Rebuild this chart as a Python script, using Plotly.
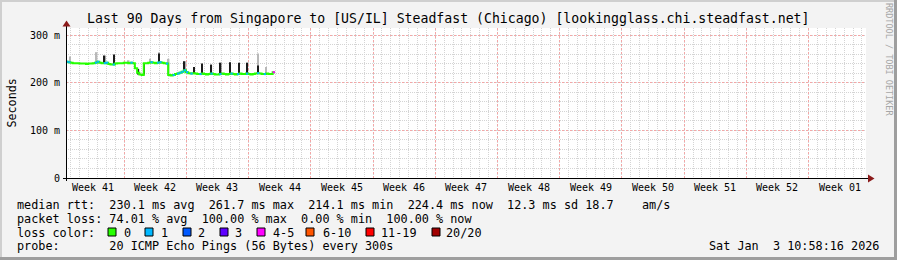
import plotly.graph_objects as go

# ---------------- data ----------------
STEP_DAYS = 0.25  # consolidation step of the median series (days)
median_ms = [244, 243, 242, 241, 241, 241, 240, 240, 240, 239, 240, 240, 241, 242, 244, 242,
             241, 241, 242, 239, 238, 238, 240, 241, 241, 241, 242, 242, 241, 242, 241, 230,
             221, 217, 216, 241, 241, 242, 243, 242, 241, 242, 243, 242, 241, 240, 216, 215,
             216, 218, 219, 221, 223, 226, 222, 220, 219, 220, 219, 218, 218, 219, 218, 217,
             218, 219, 218, 217, 217, 218, 219, 218, 217, 218, 219, 218, 217, 218, 219, 218,
             218, 219, 218, 217, 218, 219, 220, 219, 218, 218, 219, 218, 218, 222]
loss_count = [1, 1, 0, 0, 0, 0, 0, 0, 0, 0, 0, 0, 0, 1, 1, 0,
              0, 1, 1, 0, 0, 1, 0, 0, 0, 0, 0, 0, 0, 1, 0, 0,
              0, 0, 0, 0, 0, 0, 1, 0, 0, 1, 1, 0, 0, 1, 0, 0,
              1, 0, 1, 1, 1, 1, 1, 0, 1, 0, 0, 0, 1, 0, 0, 0,
              0, 1, 0, 0, 0, 1, 0, 0, 0, 0, 1, 0, 0, 1, 0, 0,
              0, 1, 0, 0, 0, 0, 1, 0, 0, 1, 0, 0, 0, 4]

# smoke (ping spread) spikes: day, low ms, high ms
smoke_light_day = [0.45, 3.45, 7.05, 9.45, 10.43, 11.55, 21.6, 22.47]
smoke_light_lo = [242, 243, 241, 243, 242, 216, 220, 218]
smoke_light_hi = [255, 264, 247, 250, 264, 250, 261, 233]
smoke_dark_day = [4.35, 5.37, 8.15, 8.75, 10.43, 13.35, 14.4, 15.33, 16.35, 17.4, 18.42, 19.43, 20.4, 21.6]
smoke_dark_lo = [241, 238, 217, 217, 242, 226, 220, 218, 218, 218, 218, 218, 218, 220]
smoke_dark_hi = [257, 259, 229, 241, 261, 245, 233, 240, 238, 242, 243, 242, 242, 236]

week_labels = ["Week 41", "Week 42", "Week 43", "Week 44", "Week 45", "Week 46", "Week 47",
               "Week 48", "Week 49", "Week 50", "Week 51", "Week 52", "Week 01"]
first_week_line_day = 6.54   # first week boundary, days after start
first_day_line = 0.54
y_ticks = [0, 100, 200, 300]
y_tick_text = ["0", "100 m", "200 m", "300 m"]

loss_labels = ["0", "1", "2", "3", "4-5", "6-10", "11-19", "20/20"]
loss_colors = ["#26ff00", "#00b8ff", "#0059ff", "#5e00ff", "#ff00ff", "#ff5500", "#ff0000", "#a10000"]
loss_upper = [0, 1, 2, 3, 5, 10, 19, 20]

title = "Last 90 Days from Singapore to [US/IL] Steadfast (Chicago) [lookingglass.chi.steadfast.net]"
legend_lines = [
    "median rtt:  230.1 ms avg  261.7 ms max  214.1 ms min  224.4 ms now  12.3 ms sd 18.7    am/s",
    "packet loss: 74.01 % avg  100.00 % max  0.00 % min  100.00 % now",
    "loss color:",
    "probe:       20 ICMP Echo Pings (56 Bytes) every 300s",
]
stamp = "Sat Jan  3 10:58:16 2026"

# ---------------- layout geometry ----------------
W, H = 897, 260
L, R, T, B = 66, 866, 28, 178
X_RANGE = [0, 90]
Y_RANGE = [0, 314.7]
FONT = "DejaVu Sans Mono"


def px(x):
    return (x - L) / (R - L)


def py(y):
    return (B - y) / (B - T)


def bucket(n):
    for i, u in enumerate(loss_upper):
        if n <= u:
            return i
    return len(loss_upper) - 1


t = [i * STEP_DAYS for i in range(len(median_ms))]
fig = go.Figure()

# smoke
fig.add_trace(go.Bar(x=smoke_light_day, base=smoke_light_lo,
                     y=[h - l for h, l in zip(smoke_light_hi, smoke_light_lo)],
                     width=0.16, marker=dict(color="#b8b8b8", line=dict(width=0)), showlegend=False))
fig.add_trace(go.Bar(x=smoke_dark_day, base=smoke_dark_lo,
                     y=[h - l for h, l in zip(smoke_dark_hi, smoke_dark_lo)],
                     width=0.16, marker=dict(color="#1c1c1c", line=dict(width=0)), showlegend=False))

# median line (green base) with loss-coloured segments
fig.add_trace(go.Scatter(x=t + [t[-1] + STEP_DAYS], y=median_ms + [median_ms[-1]], mode="lines",
                         line=dict(color=loss_colors[0], width=2, shape="hv"), showlegend=False))
for b in range(1, len(loss_colors)):
    xs, ys = [], []
    for ti, m, n in zip(t, median_ms, loss_count):
        if bucket(n) == b:
            xs += [ti, ti + STEP_DAYS, None]
            ys += [m, m, None]
    if xs:
        fig.add_trace(go.Scatter(x=xs, y=ys, mode="lines",
                                 line=dict(color=loss_colors[b], width=2), showlegend=False))

week_lines = [first_week_line_day + 7 * k for k in range(12)]
fig.update_layout(
    width=W, height=H, margin=dict(l=L, r=W - R, t=T, b=H - B),
    paper_bgcolor="#f3f3f3", plot_bgcolor="#ffffff", barmode="overlay",
    font=dict(family=FONT, size=10, color="#000000"),
    xaxis=dict(range=X_RANGE, tickmode="array", tickvals=week_lines, showticklabels=False,
               ticks="", showgrid=True, gridcolor="#f4a6a6", griddash="2px,2px", gridwidth=1,
               zeroline=False, showline=False, fixedrange=True,
               minor=dict(tickmode="linear", tick0=first_day_line, dtick=1, showgrid=True,
                          gridcolor="#d4d4d4", griddash="1px,1px", gridwidth=1, ticks="")),
    yaxis=dict(range=Y_RANGE, tickmode="array", tickvals=y_ticks, ticktext=y_tick_text,
               ticks="", ticklabelstandoff=5, showgrid=True, gridcolor="#f4a6a6",
               griddash="2px,2px", gridwidth=1, zeroline=False, showline=False,
               tickfont=dict(family=FONT, size=10),
               minor=dict(tickmode="linear", tick0=0, dtick=20, showgrid=True,
                          gridcolor="#d4d4d4", griddash="1px,1px", gridwidth=1, ticks="")),
)

shapes = []
# frame
shapes.append(dict(type="rect", xref="paper", yref="paper", x0=px(0), x1=px(W), y0=py(0), y1=py(2),
                   fillcolor="#cfcfcf", line=dict(width=0), layer="above"))
shapes.append(dict(type="rect", xref="paper", yref="paper", x0=px(0), x1=px(2), y0=py(0), y1=py(H),
                   fillcolor="#cfcfcf", line=dict(width=0), layer="above"))
shapes.append(dict(type="rect", xref="paper", yref="paper", x0=px(0), x1=px(W), y0=py(H - 3), y1=py(H),
                   fillcolor="#9e9e9e", line=dict(width=0), layer="above"))
shapes.append(dict(type="rect", xref="paper", yref="paper", x0=px(W - 3), x1=px(W), y0=py(0), y1=py(H),
                   fillcolor="#9e9e9e", line=dict(width=0), layer="above"))
# axes with arrows
shapes.append(dict(type="line", xref="paper", yref="paper", x0=px(63), x1=px(869), y0=py(B + 0.5), y1=py(B + 0.5),
                   line=dict(color="#000000", width=1), layer="above"))
shapes.append(dict(type="line", xref="paper", yref="paper", x0=px(L + 0.5), x1=px(L + 0.5), y0=py(B + 3), y1=py(25),
                   line=dict(color="#000000", width=1), layer="above"))
shapes.append(dict(type="path", xref="paper", yref="paper",
                   path=f"M {px(868)} {py(B - 3.5)} L {px(874.5)} {py(B + 0.5)} L {px(868)} {py(B + 4.5)} Z",
                   fillcolor="#8b1a1a", line=dict(width=0), layer="above"))
shapes.append(dict(type="path", xref="paper", yref="paper",
                   path=f"M {px(L - 3.5)} {py(26.5)} L {px(L + 0.5)} {py(20.5)} L {px(L + 4.5)} {py(26.5)} Z",
                   fillcolor="#8b1a1a", line=dict(width=0), layer="above"))

ann = []
ann.append(dict(text=title, xref="paper", yref="paper", x=px(448.5), y=py(18.5), xanchor="center",
                yanchor="middle", showarrow=False, font=dict(family=FONT, size=13.2)))
ann.append(dict(text="Seconds", xref="paper", yref="paper", x=px(11), y=py(102.5), xanchor="center",
                yanchor="middle", textangle=-90, showarrow=False, font=dict(family=FONT, size=11.7)))
for k, lab in enumerate(week_labels):
    ann.append(dict(text=lab, xref="x", yref="paper", x=first_week_line_day - 3.5 + 7 * k, y=py(187.5),
                    xanchor="center", yanchor="middle", showarrow=False, font=dict(family=FONT, size=10)))
for i, line in enumerate(legend_lines):
    ann.append(dict(text=line.replace(" ", "&nbsp;"), xref="paper", yref="paper", x=px(15), y=py(204.5 + 14 * i),
                    xanchor="left", yanchor="middle", showarrow=False, font=dict(family=FONT, size=11.8)))
ann.append(dict(text=stamp.replace(" ", "&nbsp;"), xref="paper", yref="paper", x=px(881), y=py(246.5),
                xanchor="right", yanchor="middle", showarrow=False, font=dict(family=FONT, size=11.8)))
ann.append(dict(text="RRDTOOL / TOBI OETIKER", xref="paper", yref="paper", x=px(889), y=py(59),
                xanchor="center", yanchor="middle", textangle=90, showarrow=False,
                font=dict(family=FONT, size=8.5, color="#a6a6a6")))

# loss colour legend
sw_x = [108, 145, 183, 220, 257, 306, 366, 432]
lab_x = [123, 160, 197, 234, 272, 322, 380, 445]
for sx, lx, lab, col in zip(sw_x, lab_x, loss_labels, loss_colors):
    shapes.append(dict(type="rect", xref="paper", yref="paper", x0=px(sx), x1=px(sx + 8),
                       y0=py(236), y1=py(228), fillcolor=col, line=dict(color="#000000", width=1), layer="above"))
    ann.append(dict(text=lab, xref="paper", yref="paper", x=px(lx - 1), y=py(232.5), xanchor="left",
                    yanchor="middle", showarrow=False, font=dict(family=FONT, size=11.8)))

fig.update_layout(shapes=shapes, annotations=ann)
fig.write_html("out.html")
